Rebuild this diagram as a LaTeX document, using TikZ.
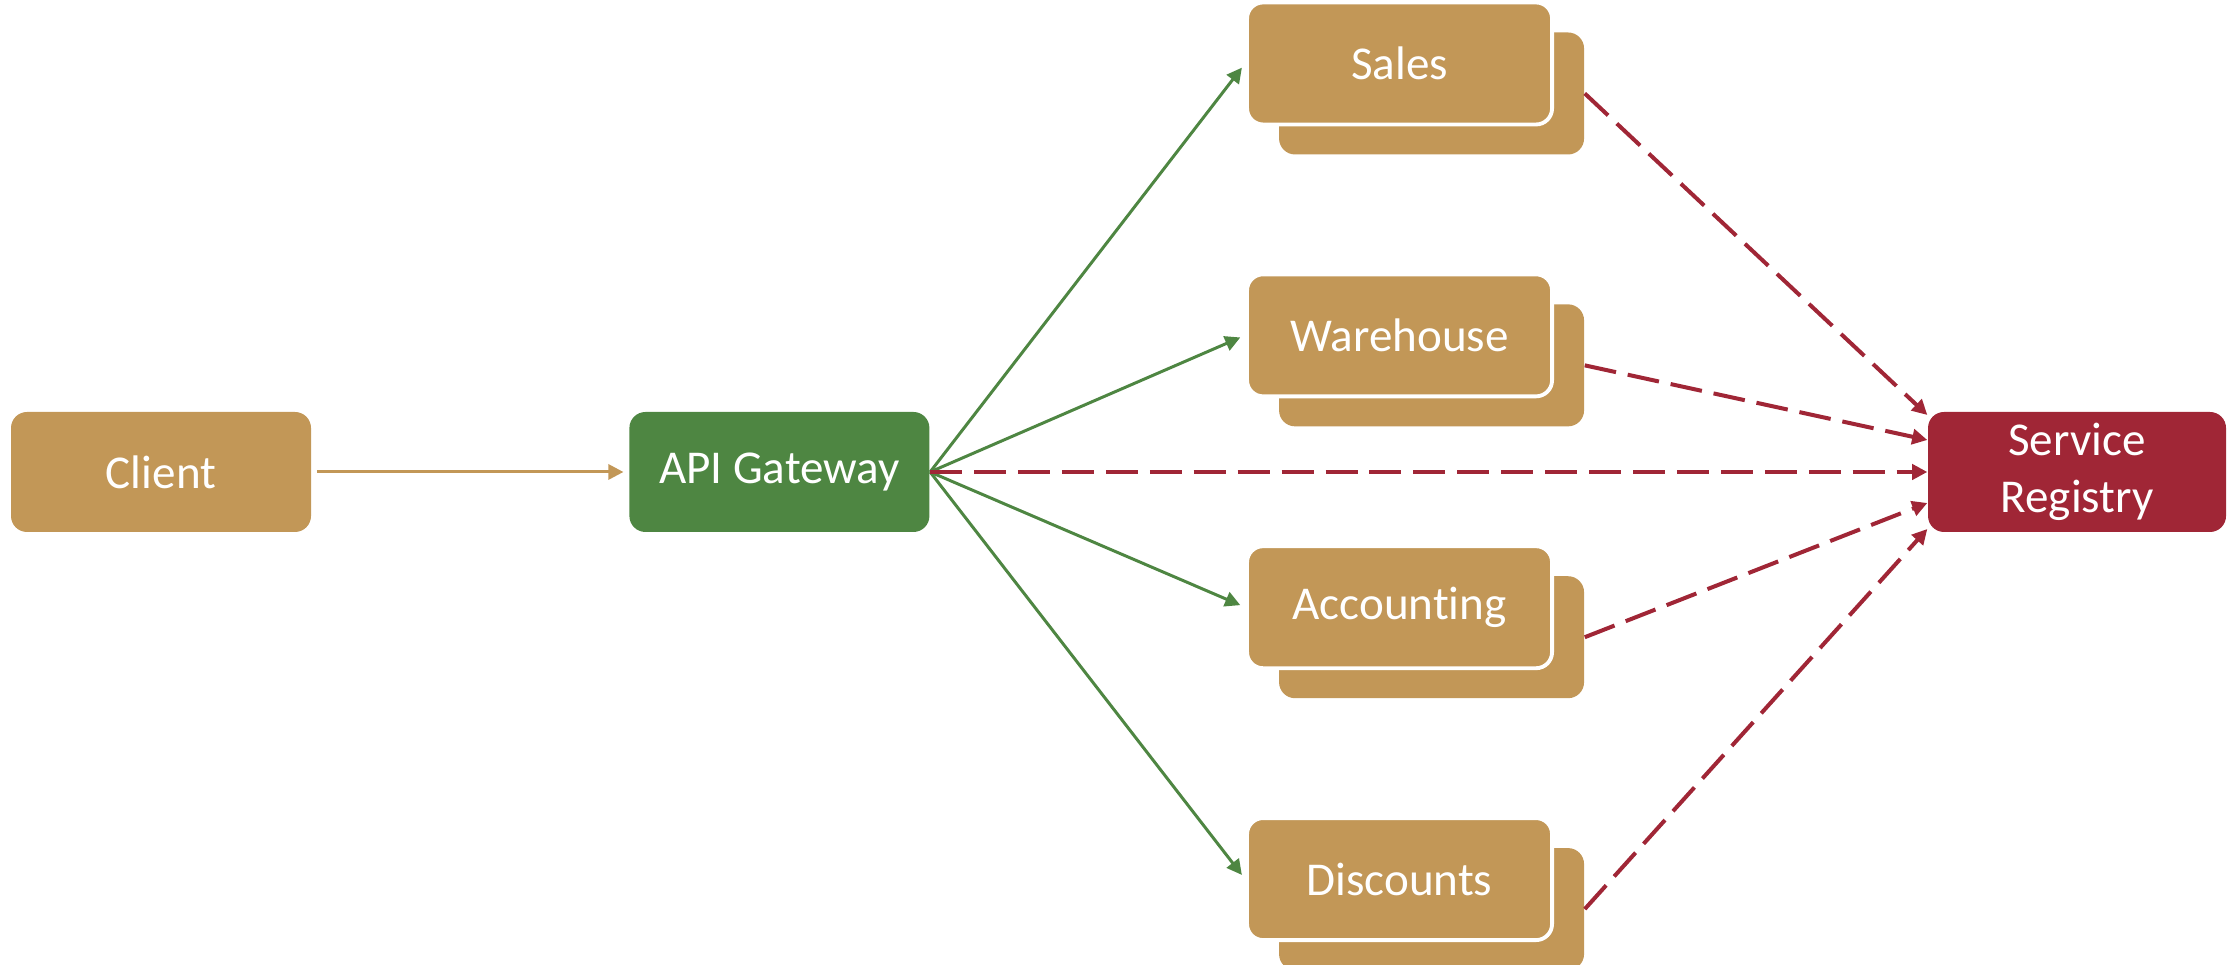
\documentclass[tikz,border=0pt]{standalone}
\usepackage{fontspec}
\setmainfont{Carlito}[Ligatures=NoCommon]
\usetikzlibrary{arrows.meta,positioning,backgrounds}

\definecolor{sand}{HTML}{C29757}
\definecolor{leaf}{HTML}{4E8642}
\definecolor{wine}{HTML}{A02636}

\tikzset{
	box/.style={rectangle,rounded corners=.16cm,fill=sand,text=white,
		minimum width=3cm,minimum height=1.2cm,inner sep=0pt,align=center,
		font=\fontsize{13.4}{16.4}\selectfont},
	svc/.style={box,minimum width=3.05cm,minimum height=1.22cm},
	front/.style={svc,draw=white,line width=1.1pt},
	call/.style={leaf,line width=.85pt,shorten >=1.5pt},
	lookup/.style={wine,line width=1.14pt,dash pattern=on 9.1pt off 3.4pt}
}

\begin{document}
\begin{tikzpicture}[node distance=1.46cm and 3.17cm,>={Triangle[length=4.3pt,width=4.3pt]}]
	\useasboundingbox (0,0) rectangle (22.29,9.65);
	\node[box]                                          (Client)     at (1.61,4.93) {Client};
	\node[box,fill=leaf,right=of Client]                (Gateway)    {API Gateway};
	\node[front,above right=.13cm and 3.15cm of Gateway] (Warehouse)  {Warehouse};
	\node[front,above=of Warehouse]                     (Sales)      {Sales};
	\node[front,below=of Warehouse]                     (Accounting) {Accounting};
	\node[front,below=of Accounting]                    (Discounts)  {Discounts};
	\node[box,fill=wine,minimum width=2.98cm]           (Registry)   at (20.77,4.93) {Service\\Registry};

	% second instance behind each service
	\begin{scope}[on background layer]
		\node[svc,xshift=.32cm,yshift=-.30cm] (SalesCopy)      at (Sales)      {};
		\node[svc,xshift=.32cm,yshift=-.30cm] (WarehouseCopy)  at (Warehouse)  {};
		\node[svc,xshift=.32cm,yshift=-.30cm] (AccountingCopy) at (Accounting) {};
		\node[svc,xshift=.32cm,yshift=-.30cm] (DiscountsCopy)  at (Discounts)  {};
	\end{scope}

	\draw[->,sand,line width=.85pt,shorten <=1.5pt,shorten >=1.5pt] (Client) -- (Gateway);

	\path[->,call]
	          (Gateway.east) edge (Sales.west)
	          (Gateway.east) edge (Warehouse.west)
	          (Gateway.east) edge (Accounting.west)
	          (Gateway.east) edge (Discounts.west);

	\path[->,lookup]
	          (SalesCopy.east)      edge ([yshift=5.7mm]Registry.west)
	          (WarehouseCopy.east)  edge ([yshift=3.2mm]Registry.west)
	          (Gateway.east)        edge (Registry.west)
	          (AccountingCopy.east) edge ([yshift=-3.1mm]Registry.west)
	          (DiscountsCopy.east)  edge ([yshift=-5.7mm]Registry.west);
\end{tikzpicture}
\end{document}
